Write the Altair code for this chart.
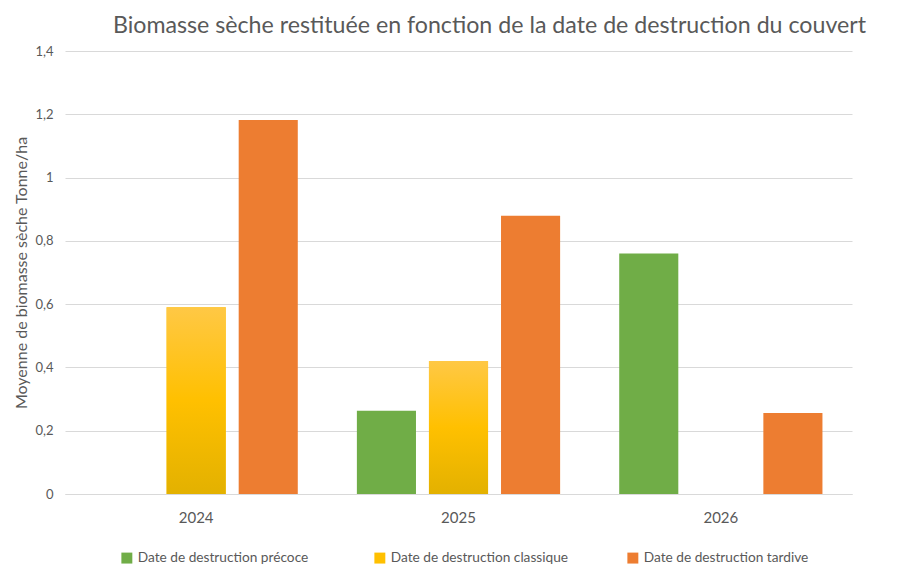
import altair as alt
import pandas as pd

years = ["2024", "2025", "2026"]
categories = ["Date de destruction précoce", "Date de destruction classique", "Date de destruction tardive"]
precoce = [None, 0.263, 0.76]
classique = [0.59, 0.42, None]
tardive = [1.182, 0.879, 0.256]
colors = ["#70AD47", "#FFC000", "#ED7D31"]

rows = []
for i, y in enumerate(years):
    for cat, vals in zip(categories, [precoce, classique, tardive]):
        if vals[i] is not None:
            rows.append({"annee": y, "cat": cat, "val": vals[i]})
df = pd.DataFrame(rows)

FONT = "Lato"
GREY = "#595959"

xenc = alt.X("annee:N", title=None, sort=years,
             scale=alt.Scale(paddingInner=0, paddingOuter=0),
             axis=alt.Axis(labelAngle=0, labelFontSize=15, labelColor=GREY, labelFont=FONT,
                           labelPadding=16, ticks=False, domainColor="#D9D9D9", grid=False))
xoff = alt.XOffset("cat:N", sort=categories,
                   scale=alt.Scale(domain=categories, paddingInner=0.18, paddingOuter=0.41))
yenc = alt.Y("val:Q", title="Moyenne de biomasse sèche Tonne/ha",
             scale=alt.Scale(domain=[0, 1.4], nice=False),
             axis=alt.Axis(values=[0, 0.2, 0.4, 0.6, 0.8, 1.0, 1.2, 1.4],
                           labelExpr="replace(format(datum.value, '~g'), '.', ',')",
                           labelFontSize=13, labelColor=GREY, labelFont=FONT, labelPadding=12,
                           ticks=False, domain=False, gridColor="#D9D9D9",
                           titleFontSize=16, titleColor=GREY, titleFont=FONT,
                           titleFontWeight="normal", titlePadding=5))

base = alt.Chart(df).mark_bar().encode(
    x=xenc, xOffset=xoff, y=yenc,
    color=alt.Color("cat:N", sort=categories,
                    scale=alt.Scale(domain=categories, range=colors),
                    legend=alt.Legend(title=None, orient="none", direction="horizontal",
                                      legendX=55, legendY=500, symbolType="square",
                                      symbolSize=120, labelFontSize=13.7, labelColor=GREY,
                                      labelFont=FONT, columnPadding=57, gridAlign="all",
                                      labelLimit=300, symbolStrokeWidth=0))
)

grad = alt.Gradient(gradient="linear", x1=0, x2=0, y1=0, y2=1,
                    stops=[alt.GradientStop(color="#FFC845", offset=0),
                           alt.GradientStop(color="#FFC000", offset=0.5),
                           alt.GradientStop(color="#E3B100", offset=1)])

gold = alt.Chart(df).transform_filter(
    alt.datum.cat == "Date de destruction classique"
).mark_bar(color=grad).encode(x=xenc, xOffset=xoff, y=yenc)

chart = alt.layer(base, gold).properties(
    width=787, height=443,
    autosize=alt.AutoSizeParams(type="none"),
    padding={"left": 57, "top": 43, "right": 42, "bottom": 76},
    title=alt.TitleParams("Biomasse sèche restituée en fonction de la date de destruction du couvert",
                          fontSize=23.2, font=FONT, color=GREY, fontWeight="normal",
                          anchor="middle", dx=31, offset=7),
).configure_view(stroke=None)

chart.save("out.html", embed_options={"renderer": "svg", "actions": False})
